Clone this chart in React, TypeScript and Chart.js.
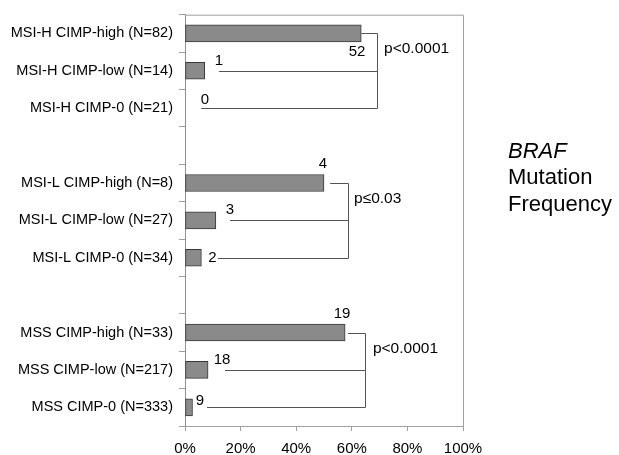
import React, { useEffect, useRef } from "react";
import { Chart, registerables } from "chart.js";

Chart.register(...registerables);

const categories = [
  "MSI-H CIMP-high (N=82)",
  "MSI-H CIMP-low (N=14)",
  "MSI-H CIMP-0 (N=21)",
  "",
  "MSI-L CIMP-high (N=8)",
  "MSI-L CIMP-low (N=27)",
  "MSI-L CIMP-0 (N=34)",
  "",
  "MSS CIMP-high (N=33)",
  "MSS CIMP-low (N=217)",
  "MSS CIMP-0 (N=333)",
];

// BRAF mutation frequency (%)
const mutationPct = [63.4, 7.1, 0, null, 50, 11.1, 5.9, null, 57.6, 8.3, 2.7];
// mutated case counts shown beside bars
const mutationCounts = ["52", "1", "0", "", "4", "3", "2", "", "19", "18", "9"];

const xTickValues = [0, 20, 40, 60, 80, 100];

const groupRows = [
  [0, 1, 2],
  [4, 5, 6],
  [8, 9, 10],
];
const groupPValues = ["p<0.0001", "p\u22640.03", "p<0.0001"];

const titleLines = ["BRAF", "Mutation", "Frequency"];

// layout of annotations (in axis units): label centre x, label y offset in category units, connector start x
const labelLayout: Record<number, [number, number, number]> = {
  0: [61.9, 0.5, 63.4],
  1: [12.2, -0.27, 12.2],
  2: [7.2, -0.22, 5.8],
  4: [49.6, -0.5, 52.2],
  5: [16.2, -0.29, 16.2],
  6: [9.9, 0, 11.9],
  8: [56.5, -0.5, 58.6],
  9: [13.3, -0.27, 14.4],
  10: [5.4, -0.16, 7.9],
};
const bracketX = [69, 58.6, 64.7];
const pLabelX = [71.6, 60.8, 67.6];

const FONT = "'Liberation Sans', Arial, sans-serif";

const annotPlugin = {
  id: "annot",
  beforeDatasetsDraw(chart: any) {
    const { ctx, chartArea } = chart;
    ctx.save();
    ctx.strokeStyle = "#a0a0a0";
    ctx.lineWidth = 1;
    ctx.beginPath();
    ctx.moveTo(chartArea.left, chartArea.top + 0.5);
    ctx.lineTo(chartArea.right + 0.5, chartArea.top + 0.5);
    ctx.lineTo(chartArea.right + 0.5, chartArea.bottom);
    ctx.stroke();
    ctx.restore();
  },
  afterDatasetsDraw(chart: any) {
    const { ctx, chartArea } = chart;
    const xs = chart.scales.x;
    const ys = chart.scales.y;
    const step = ys.getPixelForValue(1) - ys.getPixelForValue(0);
    ctx.save();
    ctx.strokeStyle = "#555";
    ctx.lineWidth = 1;
    ctx.fillStyle = "#000";
    ctx.font = `15px ${FONT}`;
    ctx.textAlign = "center";
    ctx.textBaseline = "middle";
    groupRows.forEach((rows, g) => {
      const bx = Math.round(xs.getPixelForValue(bracketX[g])) + 0.5;
      const yTop = Math.round(ys.getPixelForValue(rows[0])) + 0.5;
      const yBot = Math.round(ys.getPixelForValue(rows[rows.length - 1])) + 0.5;
      ctx.beginPath();
      ctx.moveTo(bx, yTop);
      ctx.lineTo(bx, yBot);
      rows.forEach((r) => {
        const lay = labelLayout[r];
        const yy = Math.round(ys.getPixelForValue(r)) + 0.5;
        ctx.moveTo(xs.getPixelForValue(lay[2]), yy);
        ctx.lineTo(bx, yy);
      });
      ctx.stroke();
      rows.forEach((r) => {
        const lay = labelLayout[r];
        ctx.fillText(
          mutationCounts[r],
          xs.getPixelForValue(lay[0]),
          ys.getPixelForValue(r) + lay[1] * step
        );
      });
      ctx.textAlign = "left";
      ctx.font = `15.5px ${FONT}`;
      ctx.fillText(
        groupPValues[g],
        xs.getPixelForValue(pLabelX[g]),
        ys.getPixelForValue(rows[0]) + 0.42 * step
      );
      ctx.font = `15px ${FONT}`;
      ctx.textAlign = "center";
    });
    // right-side title
    ctx.textAlign = "left";
    const tx = chartArea.right + 45;
    titleLines.forEach((t, i) => {
      ctx.font = i === 0 ? `italic 22px ${FONT}` : `22px ${FONT}`;
      ctx.fillText(t, tx, chartArea.top + 137 + i * 26.5);
    });
    ctx.restore();
  },
};

export default function App() {
  const ref = useRef<HTMLCanvasElement>(null);
  useEffect(() => {
    if (!ref.current) return;
    const chart = new Chart(ref.current, {
      type: "bar",
      data: {
        labels: categories,
        datasets: [
          {
            data: mutationPct as any,
            backgroundColor: "#8a8a8a",
            borderColor: "#383838",
            borderWidth: 1,
            borderSkipped: false,
            barThickness: 17,
          },
        ],
      },
      options: {
        indexAxis: "y",
        animation: false,
        responsive: false,
        devicePixelRatio: 1,
        layout: { padding: { top: 10, right: 156, left: 0, bottom: 0 } },
        plugins: { legend: { display: false }, tooltip: { enabled: false } },
        scales: {
          x: {
            type: "linear",
            min: 0,
            max: 100,
            afterBuildTicks: (s: any) => {
              s.ticks = xTickValues.map((v) => ({ value: v }));
            },
            afterFit: (s: any) => {
              s.height = 29;
            },
            ticks: {
              callback: (v: any) => `${v}%`,
              color: "#000",
              font: { family: FONT, size: 15 },
              padding: 9,
            },
            grid: { drawOnChartArea: false, drawTicks: true, tickLength: 5, color: "#a0a0a0" },
            border: { display: true, color: "#a0a0a0" },
          },
          y: {
            type: "category",
            offset: true,
            afterFit: (s: any) => {
              s.width = 185;
            },
            ticks: {
              autoSkip: false,
              color: "#000",
              font: { family: FONT, size: 14.5 },
              padding: 6,
            },
            grid: { offset: true, drawOnChartArea: false, drawTicks: true, tickLength: 6, color: "#a0a0a0" },
            border: { display: true, color: "#909090" },
          },
        },
      },
      plugins: [annotPlugin],
    });
    return () => chart.destroy();
  }, []);
  return (
    <div style={{ position: "absolute", left: 0, top: 0, width: 619, height: 455, background: "#fff" }}>
      <canvas ref={ref} width={619} height={455} />
    </div>
  );
}
